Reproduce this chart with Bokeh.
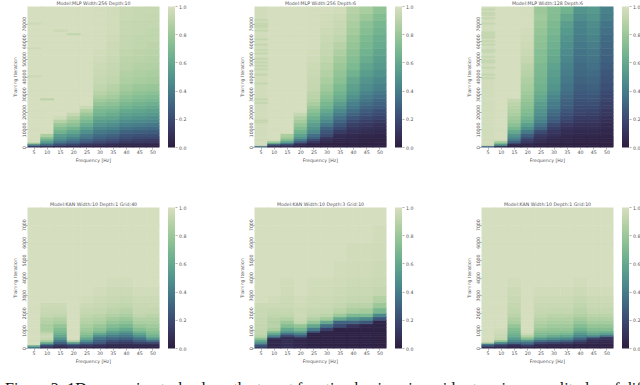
import math
from bokeh.embed import file_html
from bokeh.resources import INLINE
from bokeh.layouts import column, row
from bokeh.models import (ColorBar, ColumnDataSource, Div, FixedTicker, LinearColorMapper,
                          PrintfTickFormatter, Range1d)
from bokeh.plotting import figure
from bokeh.transform import transform

frequencies = [5, 10, 15, 20, 25, 30, 35, 40, 45, 50]
cbar_ticks = [0, 0.2, 0.4, 0.6, 0.8, 1.0]
mlp_yticks = [0, 10000, 20000, 30000, 40000, 50000, 60000, 70000]
kan_yticks = [0, 1000, 2000, 3000, 4000, 5000, 6000, 7000]

# Row edges (training iteration); each list below gives the values of one frequency column
# from the bottom row upwards, its last value holding for the remaining rows.
mlp_edges = [0, 1000, 2000, 3000, 4000, 5000, 6000, 8000, 10000, 12000, 14000, 16000, 18000, 20000, 22000, 24000,
             26000, 28000, 30000, 32000, 36000, 40000, 44000, 48000, 52000, 56000, 60000, 64000, 68000, 72000, 76000, 80000]
kan_edges = [0, 100, 200, 300, 400, 500, 600, 700, 800, 900, 1000, 1200, 1400, 1600, 1800, 2000, 2300, 2600,
             3000, 3500, 4000, 5000, 6000, 7000, 8000]

mlp_w256_d10 = [
    [.1, .4, .8, .995],
    [.05, .3, .45, .55, .65, .72, .85, .995],
    [.03, .2, .3, .38, .45, .5, .55, .65, .72, .8, .88, .97, .995],
    [.03, .15, .25, .32, .38, .42, .5, .58, .66, .75, .8, .87, .93, .995],
    [.03, .1, .18, .25, .3, .35, .4, .48, .55, .62, .68, .74, .8, .87, .95, .995],
    [.02, .08, .15, .2, .25, .28, .33, .38, .44, .5, .55, .6, .65, .69, .73, .77, .82, .86, .89, .92, .94, .95, .96, .97, .98, .99],
    [.02, .07, .12, .18, .22, .25, .3, .36, .42, .48, .53, .58, .62, .67, .71, .75, .79, .83, .86, .89, .92, .93, .94, .95, .96, .96, .97, .98],
    [.02, .05, .09, .13, .17, .2, .24, .3, .36, .42, .47, .52, .56, .6, .65, .69, .73, .76, .79, .83, .86, .88, .9, .91, .92, .93, .93, .94, .94, .95],
    [.02, .05, .08, .12, .15, .18, .23, .28, .34, .4, .45, .5, .54, .58, .62, .66, .7, .73, .76, .8, .84, .86, .88, .9, .91, .92, .92, .93, .93, .94],
    [.02, .04, .08, .11, .14, .17, .22, .27, .33, .38, .44, .48, .52, .56, .6, .64, .68, .71, .74, .79, .83, .85, .87, .89, .9, .91, .92, .92, .93, .93, .94],
]
mlp_w256_d6 = [
    [.35, .98],
    [.05, .2, .6, .85, .995],
    [.06, .15, .4, .6, .72, .8, .85, .995],
    [.03, .06, .15, .3, .4, .5, .57, .65, .72, .78, .83, .88, .93, .995],
    [.02, .03, .06, .12, .2, .27, .35, .45, .5, .55, .6, .65, .7, .75, .8, .85, .88, .9, .91, .93, .94, .95, .96, .97, .98, .99],
    [.02, .02, .03, .05, .08, .1, .2, .25, .3, .38, .45, .5, .55, .6, .65, .68, .72, .75, .78, .82, .85, .88, .9, .92, .93, .94, .95, .96, .97, .98, .99],
    [.02, .02, .02, .03, .05, .07, .08, .14, .2, .25, .3, .35, .4, .45, .5, .55, .6, .63, .66, .7, .74, .77, .8, .83, .86, .89, .92, .94, .95, .96, .98],
    [.02, .02, .02, .03, .04, .05, .06, .09, .12, .16, .2, .25, .3, .34, .38, .42, .45, .49, .52, .56, .6, .65, .7, .73, .75, .78, .8, .83, .85, .87, .89],
    [.02, .02, .02, .02, .03, .04, .05, .08, .1, .13, .16, .2, .24, .27, .3, .34, .37, .4, .43, .47, .5, .54, .58, .62, .65, .68, .7, .73, .75, .8, .84],
    [.02, .02, .02, .02, .02, .03, .04, .06, .08, .1, .13, .17, .2, .23, .27, .3, .32, .35, .38, .42, .45, .49, .52, .55, .58, .61, .63, .66, .68, .72, .76],
]
mlp_w128_d6 = [
    [.3, .98],
    [.05, .45, .7, .85, .995],
    [.03, .03, .2, .3, .38, .43, .5, .6, .68, .75, .79, .82, .85, .87, .89, .91, .93, .995],
    [.02, .04, .08, .12, .16, .2, .28, .38, .48, .55, .62, .66, .7, .72, .74, .76, .78, .8, .82, .84, .86, .89, .91, .93, .95, .96, .97, .98, .99],
    [.02, .03, .04, .06, .08, .1, .14, .2, .3, .36, .42, .45, .48, .5, .53, .55, .58, .6, .62, .65, .67, .69, .7, .72, .73, .75, .76, .78, .8, .82, .8],
    [.02, .02, .03, .04, .05, .06, .09, .12, .16, .2, .26, .29, .32, .35, .38, .4, .42, .44, .47, .5, .52, .55, .57, .6, .62, .64, .66, .68, .7, .72, .73],
    [.02, .02, .02, .03, .04, .05, .06, .08, .1, .13, .17, .2, .22, .25, .27, .29, .3, .32, .34, .36, .38, .4, .42, .44, .46, .48, .5, .52, .55, .6, .65],
    [.01, .02, .02, .02, .03, .03, .05, .06, .08, .1, .12, .14, .17, .19, .2, .22, .23, .25, .26, .28, .3, .32, .33, .35, .36, .38, .4, .42, .43, .47, .5],
    [.01, .02, .02, .02, .03, .03, .05, .06, .08, .1, .12, .14, .16, .18, .2, .22, .24, .25, .27, .29, .31, .33, .35, .37, .39, .41, .43, .45, .47, .5, .52],
    [.01, .01, .02, .02, .02, .03, .04, .05, .06, .07, .08, .1, .12, .13, .15, .16, .18, .19, .2, .22, .24, .25, .27, .29, .3, .32, .33, .35, .37, .4, .42],
]
kan_w10_d1_g40 = [
    [.35, .6, .995],
    [.1, .15, .4, .65, .85, .93, .95, .95, .93, .88, .85, .85, .88, .9, .93, .95, .96, .995],
    [.05, .08, .2, .3, .4, .48, .55, .6, .65, .68, .72, .78, .84, .88, .92, .95, .96, .995],
    [.1, .12, .3, .6, .9, .995],
    [.05, .1, .2, .35, .48, .58, .65, .7, .75, .78, .82, .85, .88, .9, .92, .94, .96, .98, .995],
    [.04, .07, .15, .25, .3, .35, .4, .5, .6, .68, .75, .8, .85, .88, .9, .93, .95, .96, .98, .995],
    [.03, .05, .09, .15, .22, .3, .35, .42, .5, .55, .65, .72, .78, .83, .87, .91, .93, .95, .96, .98, .995],
    [.03, .05, .08, .13, .2, .27, .33, .38, .45, .5, .6, .68, .75, .8, .85, .89, .92, .94, .96, .98, .995],
    [.03, .05, .1, .18, .28, .35, .42, .5, .58, .65, .73, .8, .85, .88, .92, .94, .95, .96, .98, .995],
    [.03, .05, .1, .2, .35, .5, .6, .65, .7, .73, .78, .82, .85, .88, .9, .93, .95, .96, .98, .995],
]
kan_w10_d3_g10 = [
    [.15, .2, .35, .5, .58, .72, .85, .9, .92, .92, .93, .93, .94, .94, .95, .95, .96, .995],
    [.05, .05, .05, .05, .05, .05, .3, .45, .6, .7, .85, .9, .88, .9, .92, .94, .96, .98, .995],
    [.08, .08, .08, .08, .08, .08, .08, .2, .35, .5, .6, .72, .8, .88, .92, .94, .96, .96, .97, .98, .995],
    [.05, .05, .05, .05, .05, .05, .15, .3, .42, .55, .68, .78, .92, .95, .96, .96, .97, .98, .995],
    [.03, .03, .03, .03, .03, .03, .03, .03, .03, .2, .4, .6, .78, .88, .92, .94, .96, .96, .97, .98, .995],
    [.03, .03, .03, .03, .03, .03, .03, .03, .03, .03, .15, .35, .6, .82, .9, .93, .95, .96, .97, .98, .995],
    [.03, .03, .03, .03, .03, .03, .03, .03, .03, .03, .03, .2, .3, .6, .8, .9, .93, .95, .96, .97, .98, .995],
    [.03, .03, .03, .03, .03, .03, .03, .03, .03, .03, .03, .1, .3, .5, .7, .85, .9, .93, .95, .96, .97, .98, .995],
    [.03, .03, .03, .03, .03, .03, .03, .03, .03, .03, .03, .04, .25, .45, .7, .83, .9, .93, .95, .96, .97, .98, .995],
    [.02, .02, .02, .02, .02, .02, .02, .02, .02, .02, .02, .03, .03, .25, .45, .68, .8, .88, .93, .95, .96, .97, .98, .995],
]
kan_w10_d1_g10 = [
    [.05, .2, .4, .9, .995],
    [.05, .1, .25, .5, .8, .93, .94, .95, .96, .97, .98, .995],
    [.03, .05, .15, .35, .45, .52, .58, .62, .66, .68, .72, .78, .84, .87, .9, .92, .93, .95, .96, .98, .995],
    [.03, .1, .25, .35, .5, .7, .8, .9, .96, .995],
    [.02, .05, .1, .2, .35, .5, .6, .68, .72, .75, .8, .84, .87, .9, .92, .94, .95, .96, .98, .995],
    [.02, .04, .08, .18, .32, .45, .55, .63, .7, .74, .78, .82, .85, .88, .9, .93, .95, .96, .98, .995],
    [.02, .04, .08, .16, .3, .42, .52, .6, .68, .73, .78, .82, .85, .88, .9, .93, .95, .96, .98, .995],
    [.02, .03, .05, .1, .18, .28, .38, .45, .52, .58, .65, .72, .78, .83, .87, .9, .92, .94, .96, .98, .995],
    [.02, .03, .04, .06, .08, .12, .3, .5, .6, .65, .72, .78, .83, .87, .9, .93, .95, .96, .98, .995],
    [.02, .03, .04, .05, .07, .1, .15, .4, .55, .62, .72, .78, .83, .87, .9, .93, .95, .96, .98, .995],
]

# Thin streaks seen in the pale part of a column: frequency, iteration, value
streaks_w256_d10 = [(10, 27000, .9), (20, 64000, .92), (5, 70000, .96), (5, 56000, .96), (5, 40000, .96), (15, 66000, .96)]
streak_iters_w256_d6_f5 = [72000, 70000, 69000, 68000, 66000, 61000, 58000, 55000, 53000, 50000, 48000, 46000, 44000, 41000, 36000, 27000, 25000, 15000, 14000]
streak_iters_w128_d6_f5 = [78000, 76000, 75000, 73000, 70000, 65000, 64000, 63000, 62000, 60000, 58000, 55000, 54000, 51000, 49000, 48000, 45000, 41000, 39000]
streak_value = 0.93

titles = ["Model:MLP Width:256 Depth:10", "Model:MLP Width:256 Depth:6", "Model:MLP Width:128 Depth:6",
          "Model:KAN Width:10 Depth:1 Grid:40", "Model:KAN Width:10 Depth:3 Grid:10", "Model:KAN Width:10 Depth:1 Grid:10"]
xlabel = "Frequency [Hz]"
ylabel = "Training Iteration"
caption = "Figure 2: 1D regression task where the target function having sinusoids at various amplitudes of different f"


def cubehelix(start=.5, rot=-.75, hue=.8, light=.85, dark=.15, n=256):
    out = []
    for i in range(n):
        x = dark + (light - dark) * i / (n - 1)
        a = hue * x * (1 - x) / 2
        phi = 2 * math.pi * (start / 3 + rot * x)
        r = x + a * (-.14861 * math.cos(phi) + 1.78277 * math.sin(phi))
        g = x + a * (-.29227 * math.cos(phi) - .90649 * math.sin(phi))
        b = x + a * (1.97294 * math.cos(phi))
        out.append("#%02x%02x%02x" % tuple(max(0, min(255, round(c * 255))) for c in (r, g, b)))
    return out


palette = cubehelix()
TXT = "#555555"
FS = "4.7px"
FONT = "DejaVu Sans"


def panel(title, edges, cols, yticks, ymax, streaks, right, bottom):
    mapper = LinearColorMapper(palette=palette, low=0, high=1)
    p = figure(frame_width=132, frame_height=141,
               x_range=Range1d(2.5, 52.5), y_range=Range1d(0, ymax),
               output_backend="svg", toolbar_location=None,
               min_border_left=27, min_border_right=right, min_border_top=6, min_border_bottom=bottom,
               outline_line_color=None, background_fill_color=None, border_fill_color=None)
    left, rgt, bot, top, val = [], [], [], [], []
    for f, c in zip(frequencies, cols):
        for i in range(len(edges) - 1):
            left.append(f - 2.5); rgt.append(f + 2.5)
            bot.append(edges[i]); top.append(edges[i + 1])
            val.append(c[i] if i < len(c) else c[-1])
    for f, it, v in streaks:
        left.append(f - 2.5); rgt.append(f + 2.5)
        bot.append(it); top.append(it + ymax / 120)
        val.append(v)
    src = ColumnDataSource(dict(left=left, right=rgt, bottom=bot, top=top, val=val))
    c = transform("val", mapper)
    p.quad(left="left", right="right", bottom="bottom", top="top", source=src,
           fill_color=c, line_color=c, line_width=0.7)
    p.grid.visible = False
    p.title.text = title
    p.title.text_font = FONT
    p.title.text_font_size = FS
    p.title.text_font_style = "normal"
    p.title.text_color = TXT
    p.title.align = "center"
    p.title.standoff = 2
    p.title.offset = 0
    for ax in (p.xaxis[0], p.yaxis[0]):
        ax.axis_line_color = None
        ax.major_tick_in = 0
        ax.major_tick_out = 2
        ax.major_tick_line_color = "#666666"
        ax.major_tick_line_width = 0.5
        ax.minor_tick_line_color = None
        ax.major_label_text_font = FONT
        ax.major_label_text_font_size = FS
        ax.major_label_text_color = TXT
        ax.axis_label_text_font = FONT
        ax.axis_label_text_font_size = FS
        ax.axis_label_text_font_style = "normal"
        ax.axis_label_text_color = TXT
        ax.major_label_standoff = 0
        ax.axis_label_standoff = 1
    p.xaxis[0].ticker = FixedTicker(ticks=frequencies)
    p.yaxis[0].ticker = FixedTicker(ticks=yticks)
    p.yaxis[0].major_label_orientation = "vertical"
    p.xaxis[0].axis_label = xlabel
    p.yaxis[0].axis_label = ylabel
    cb = ColorBar(color_mapper=mapper, ticker=FixedTicker(ticks=cbar_ticks),
                  formatter=PrintfTickFormatter(format="%.1f"), width=7, height=141, location=(140.5, 0),
                  margin=0, padding=0,
                  major_tick_in=0, major_tick_out=2, major_tick_line_color="#666666", major_tick_line_width=0.5,
                  minor_tick_line_color=None, bar_line_color=None, label_standoff=2,
                  major_label_text_font=FONT, major_label_text_font_size=FS, major_label_text_color=TXT,
                  background_fill_color=None, background_fill_alpha=0, border_line_color=None)
    p.add_layout(cb, "center")
    return p


s_d6 = [(5, it, streak_value) for it in streak_iters_w256_d6_f5]
s_128 = [(5, it, streak_value) for it in streak_iters_w128_d6_f5]
p1 = panel(titles[0], mlp_edges, mlp_w256_d10, mlp_yticks, 80000, streaks_w256_d10, 68, 51)
p2 = panel(titles[1], mlp_edges, mlp_w256_d6, mlp_yticks, 80000, s_d6, 68, 51)
p3 = panel(titles[2], mlp_edges, mlp_w128_d6, mlp_yticks, 80000, s_128, 27, 51)
p4 = panel(titles[3], kan_edges, kan_w10_d1_g40, kan_yticks, 8000, [], 68, 27)
p5 = panel(titles[4], kan_edges, kan_w10_d3_g10, kan_yticks, 8000, [], 68, 27)
p6 = panel(titles[5], kan_edges, kan_w10_d1_g10, kan_yticks, 8000, [], 27, 27)

cap = Div(text=caption, width=640, height=7,
          styles={"font-family": "Liberation Serif", "font-size": "16px", "line-height": "17px",
                  "white-space": "nowrap", "overflow": "hidden", "color": "#111"})
root = column(row(p1, p2, p3, spacing=0), row(p4, p5, p6, spacing=0), cap, spacing=0, margin=(-3, 0, 0, 0))
open("out.html", "w").write(file_html(root, INLINE))
